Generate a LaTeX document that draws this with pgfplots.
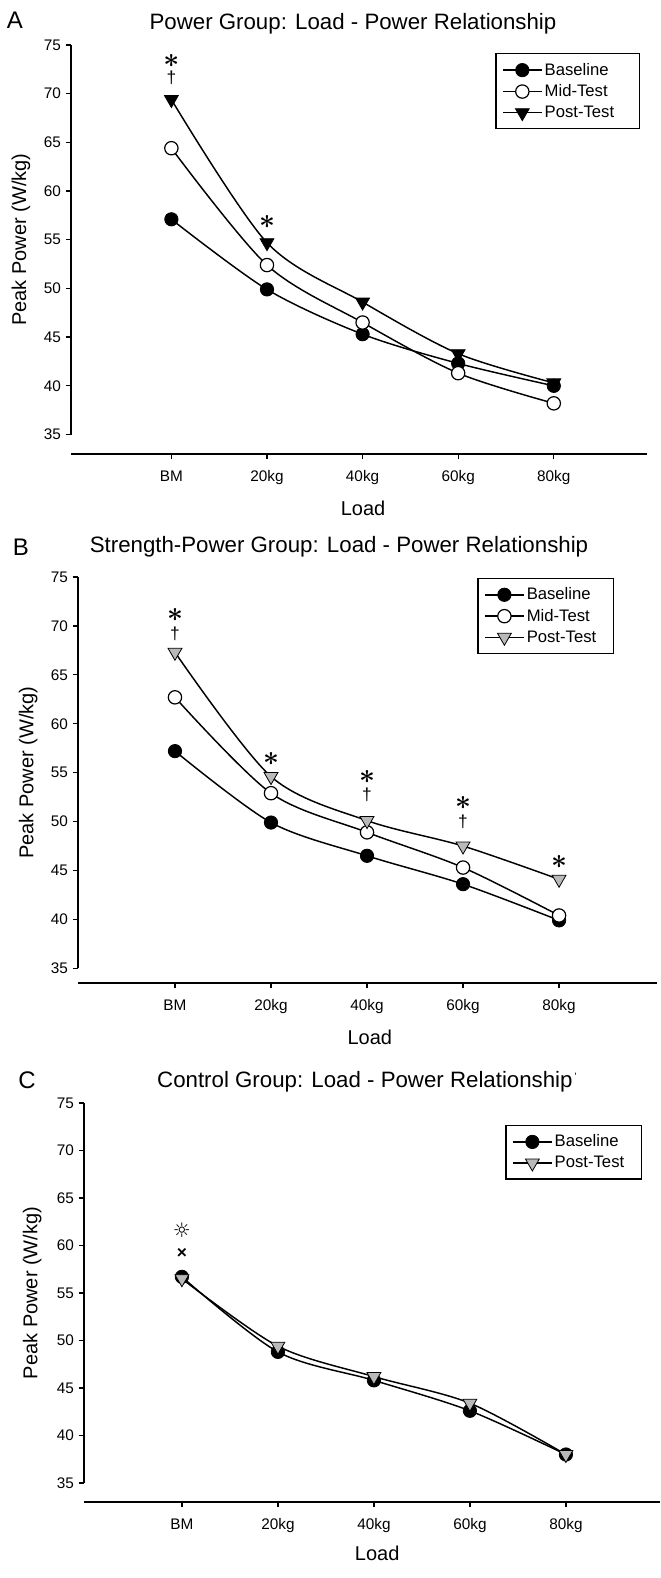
\documentclass[border=0pt]{standalone}
\usepackage{fontspec}
\setmainfont{Liberation Sans}
\newfontfamily\dejavu{DejaVu Sans}
\usepackage{pgfplots}
\pgfplotsset{compat=1.18}

\pgfplotsset{
  loadpower/.style={
    scale only axis, clip=false,
    ymax=75,
    axis x line*=bottom, axis y line*=left,
    axis line style={-, line width=1.1pt},
    y axis line style={draw=none},
    xtick={0,...,4}, xticklabels={BM,20kg,40kg,60kg,80kg},
    ytick={35,40,...,75},
    tick align=outside, major tick length=4pt,
    tick style={line width=1pt, black},
    tick label style={font=\fontsize{11.5}{13}\selectfont},
    xticklabel style={yshift=-5pt},
    /pgf/number format/assume math mode=true,
    label style={font=\fontsize{15}{17}\selectfont},
    legend style={draw=black, line width=0.9pt, font=\fontsize{12.5}{14.5}\selectfont,
      anchor=north east, row sep=1.5pt, inner xsep=5pt, inner ysep=5pt},
    legend cell align=left,
    legend image code/.code={
      \draw[mark repeat=2, mark phase=2] plot coordinates {(0cm,0cm) (0.5cm,0cm) (1.0cm,0cm)};},
    every axis plot/.append style={line width=1.1pt, smooth, tension=0.5},
  },
  base/.style={black, mark=*, mark size=5pt, mark options={fill=black, line width=0.6pt}},
  mid/.style={black, mark=*, mark size=5pt, mark options={fill=white, line width=0.9pt}},
  post/.style={black, mark=triangle*, mark size=6pt, mark options={rotate=180, fill=#1, line width=0.6pt}},
  post/.default=black,
}
\newcommand{\sig}{{\fontsize{20}{20}\selectfont\boldmath$\ast$}}
\newcommand{\dg}{{\fontsize{13}{13}\selectfont †}}

\begin{document}
\begin{tikzpicture}
\path (0,0) rectangle (495pt,1183.5pt);

% ---------- Panel A ----------
\node[font=\fontsize{18}{20}\selectfont] at (11.25pt,1168.5pt) {A};
\node[font=\fontsize{16.7}{19}\selectfont] at (264.75pt,1165.5pt) {Power Group: Load - Power Relationship};
\begin{axis}[loadpower,
    at={(53.25pt,843pt)}, anchor=south west,
    width=432pt, height=306.75pt, xmin=-1.05, xmax=4.975, ymin=33,
    xlabel={Load}, ylabel={Peak Power (W/kg)},
    xlabel style={at={(axis description cs:0.507,-0.132)}, anchor=center},
    ylabel style={at={(axis description cs:-0.087,0.524)}, anchor=center},
    legend style={at={(0.988,0.98)}},
]
\addplot[base] coordinates {(0,57.1) (1,49.9) (2,45.3) (3,42.3) (4,40.0)};
\addplot[mid] coordinates {(0,64.4) (1,52.4) (2,46.5) (3,41.3) (4,38.2)};
\addplot[post] coordinates {(0,69.4) (1,54.7) (2,48.6) (3,43.3) (4,40.3)};
\legend{Baseline,Mid-Test,Post-Test\hspace*{12pt}}
\draw[line width=1.1pt] (axis cs:-1.05,35) -- (axis cs:-1.05,75);
\node at (axis cs:0,73.4) {\sig};
\node at (axis cs:0,71.6) {\dg};
\node at (axis cs:1,56.8) {\sig};
\end{axis}

% ---------- Panel B ----------
\node[font=\fontsize{18}{20}\selectfont] at (15.75pt,773.25pt) {B};
\node[font=\fontsize{16.7}{19}\selectfont] at (254.25pt,773.25pt) {Strength-Power Group: Load - Power Relationship};
\begin{axis}[loadpower,
    at={(58.5pt,446.25pt)}, anchor=south west,
    width=434.25pt, height=304.5pt, xmin=-1.01, xmax=5.02, ymin=33.5,
    xlabel={Load}, ylabel={Peak Power (W/kg)},
    xlabel style={at={(axis description cs:0.504,-0.133)}, anchor=center},
    ylabel style={at={(axis description cs:-0.086,0.518)}, anchor=center},
    legend style={at={(0.926,0.998)}},
]
\addplot[base] coordinates {(0,57.2) (1,49.9) (2,46.5) (3,43.6) (4,39.9)};
\addplot[mid] coordinates {(0,62.7) (1,52.9) (2,48.9) (3,45.3) (4,40.4)};
\addplot[post=gray!55] coordinates {(0,67.3) (1,54.6) (2,50.1) (3,47.5) (4,44.1)};
\legend{Baseline,Mid-Test,Post-Test\hspace*{6pt}}
\draw[line width=1.1pt] (axis cs:-1.01,35) -- (axis cs:-1.01,75);
\node at (axis cs:0,71.1) {\sig};
\node at (axis cs:0,69.2) {\dg};
\node at (axis cs:1,56.4) {\sig};
\node at (axis cs:2,54.6) {\sig};
\node at (axis cs:2,52.7) {\dg};
\node at (axis cs:3,51.9) {\sig};
\node at (axis cs:3,50.0) {\dg};
\node at (axis cs:4,45.9) {\sig};
\end{axis}

% ---------- Panel C ----------
\node[font=\fontsize{18}{20}\selectfont] at (20.25pt,373.5pt) {C};
\node[font=\fontsize{16.7}{19}\selectfont] at (275.25pt,372pt) {Control Group: Load - Power Relationship\raisebox{0.6ex}{\fontsize{8}{8}\selectfont\,'}};
\begin{axis}[loadpower,
    at={(63pt,57pt)}, anchor=south west,
    width=432pt, height=299.25pt, xmin=-1.02, xmax=4.98, ymin=33,
    xlabel={Load}, ylabel={Peak Power (W/kg)},
    xlabel style={at={(axis description cs:0.509,-0.128)}, anchor=center},
    ylabel style={at={(axis description cs:-0.09,0.524)}, anchor=center},
    legend style={at={(0.969,0.945)}},
]
\addplot[base] coordinates {(0,56.7) (1,48.8) (2,45.8) (3,42.6) (4,38.0)};
\addplot[post=gray!55] coordinates {(0,56.5) (1,49.4) (2,46.2) (3,43.4) (4,38.0)};
\legend{Baseline,Post-Test\hspace*{6pt}}
\draw[line width=1.1pt] (axis cs:-1.02,35) -- (axis cs:-1.02,75);
\node[font=\dejavu\fontsize{15}{15}\selectfont] at (axis cs:0,61.6) {☼};
\node[font=\fontsize{13}{13}\selectfont\bfseries] at (axis cs:0,59.2) {×};
\end{axis}
\end{tikzpicture}
\end{document}
